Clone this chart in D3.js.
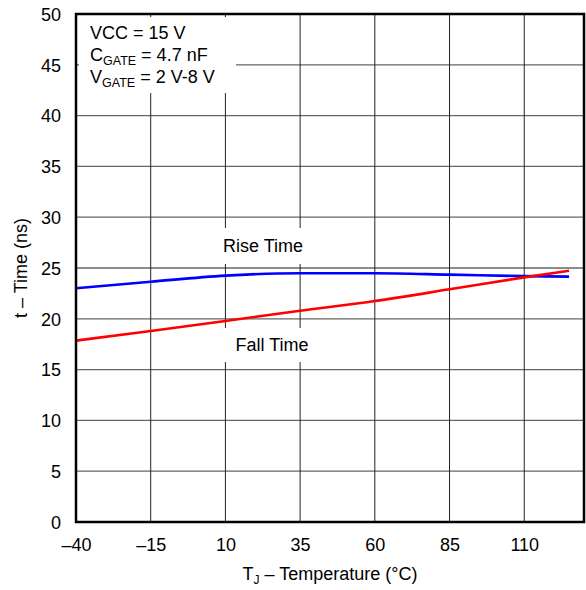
<!DOCTYPE html>
<html><head><meta charset="utf-8">
<script src="https://cdn.jsdelivr.net/npm/d3@7"></script>
<style>
body{margin:0;background:#fff;}
text{font-family:"Liberation Sans",Arial,sans-serif;fill:#000;}
</style></head>
<body><svg id="c" width="586" height="590"></svg>
<script>
const temps = [-40, -15, 10, 35, 60, 85, 110, 125];
const riseTime = [23.0, 23.65, 24.25, 24.48, 24.48, 24.35, 24.2, 24.15];
const fallTime = [17.85, 18.8, 19.78, 20.8, 21.75, 22.9, 24.08, 24.73];
const xTicks = [-40, -15, 10, 35, 60, 85, 110];
const yTicks = [0, 5, 10, 15, 20, 25, 30, 35, 40, 45, 50];

const svg = d3.select("#c");
const L = 76, R = 584, T = 14, B = 522;
const x = d3.scaleLinear().domain([-40, 130]).range([L, R]);
const y = d3.scaleLinear().domain([0, 50]).range([B, T]);
const fs = 18;

// gridlines
svg.append("g").selectAll("line").data(yTicks).join("line")
  .attr("x1", L).attr("x2", R).attr("y1", d => y(d)).attr("y2", d => y(d))
  .attr("stroke", "#666").attr("stroke-width", 1.3);
svg.append("g").selectAll("line").data(xTicks).join("line")
  .attr("x1", d => x(d)).attr("x2", d => x(d)).attr("y1", T).attr("y2", B)
  .attr("stroke", "#222").attr("stroke-width", 1);

// masks behind labels
svg.append("rect").attr("x", 79).attr("y", 17).attr("width", 157).attr("height", 76).attr("fill", "#fff");
svg.append("rect").attr("x", 216).attr("y", 228).attr("width", 94).attr("height", 36).attr("fill", "#fff");
svg.append("rect").attr("x", 220).attr("y", 328).attr("width", 100).attr("height", 34).attr("fill", "#fff");

// curves
const line = d3.line().x((d, i) => x(temps[i])).y(d => y(d)).curve(d3.curveMonotoneX);
svg.append("path").attr("d", line(riseTime)).attr("fill", "none").attr("stroke", "#0000ff").attr("stroke-width", 2.6);
svg.append("path").attr("d", line(fallTime)).attr("fill", "none").attr("stroke", "#ff0000").attr("stroke-width", 2.6);

// frame
svg.append("rect").attr("x", L).attr("y", T).attr("width", R - L).attr("height", B - T)
  .attr("fill", "none").attr("stroke", "#000").attr("stroke-width", 2.5);

// axes
const xAxis = d3.axisBottom(x).tickValues(xTicks).tickSize(0).tickPadding(0)
  .tickFormat(d => d < 0 ? "\u2013" + Math.abs(d) : String(d));
const gx = svg.append("g").attr("transform", `translate(0,${B})`).call(xAxis);
gx.select(".domain").remove();
gx.selectAll("text").attr("font-size", fs).attr("font-family", '"Liberation Sans",Arial,sans-serif')
  .attr("y", 29).attr("dy", 0).attr("fill", "#000");

const yAxis = d3.axisLeft(y).tickValues(yTicks).tickSize(0).tickPadding(0);
const gy = svg.append("g").attr("transform", `translate(${L},0)`).call(yAxis);
gy.select(".domain").remove();
gy.selectAll("text").attr("font-size", fs).attr("font-family", '"Liberation Sans",Arial,sans-serif')
  .attr("x", -15).attr("dy", "0.35em").attr("fill", "#000");

// axis titles
const xt = svg.append("text").attr("x", (L + R) / 2).attr("y", 580).attr("text-anchor", "middle").attr("font-size", fs);
xt.append("tspan").text("T");
xt.append("tspan").attr("font-size", 12).attr("dy", 4).text("J");
xt.append("tspan").attr("dy", -4).text(" \u2013 Temperature (\u00B0C)");

svg.append("text").attr("transform", `translate(27,${(T + B) / 2}) rotate(-90)`)
  .attr("text-anchor", "middle").attr("font-size", fs).text("t \u2013 Time (ns)");

// annotation box text
svg.append("text").attr("x", 90).attr("y", 39).attr("font-size", fs).text("VCC = 15 V");
const c = svg.append("text").attr("x", 90).attr("y", 61).attr("font-size", fs);
c.append("tspan").text("C");
c.append("tspan").attr("font-size", 12.5).attr("dy", 4).text("GATE");
c.append("tspan").attr("dy", -4).text(" = 4.7 nF");
const v = svg.append("text").attr("x", 90).attr("y", 83).attr("font-size", fs);
v.append("tspan").text("V");
v.append("tspan").attr("font-size", 12.5).attr("dy", 4).text("GATE");
v.append("tspan").attr("dy", -4).text(" = 2 V-8 V");

svg.append("text").attr("x", 263).attr("y", 252).attr("text-anchor", "middle").attr("font-size", fs).text("Rise Time");
svg.append("text").attr("x", 272).attr("y", 351).attr("text-anchor", "middle").attr("font-size", fs).text("Fall Time");
</script></body></html>
